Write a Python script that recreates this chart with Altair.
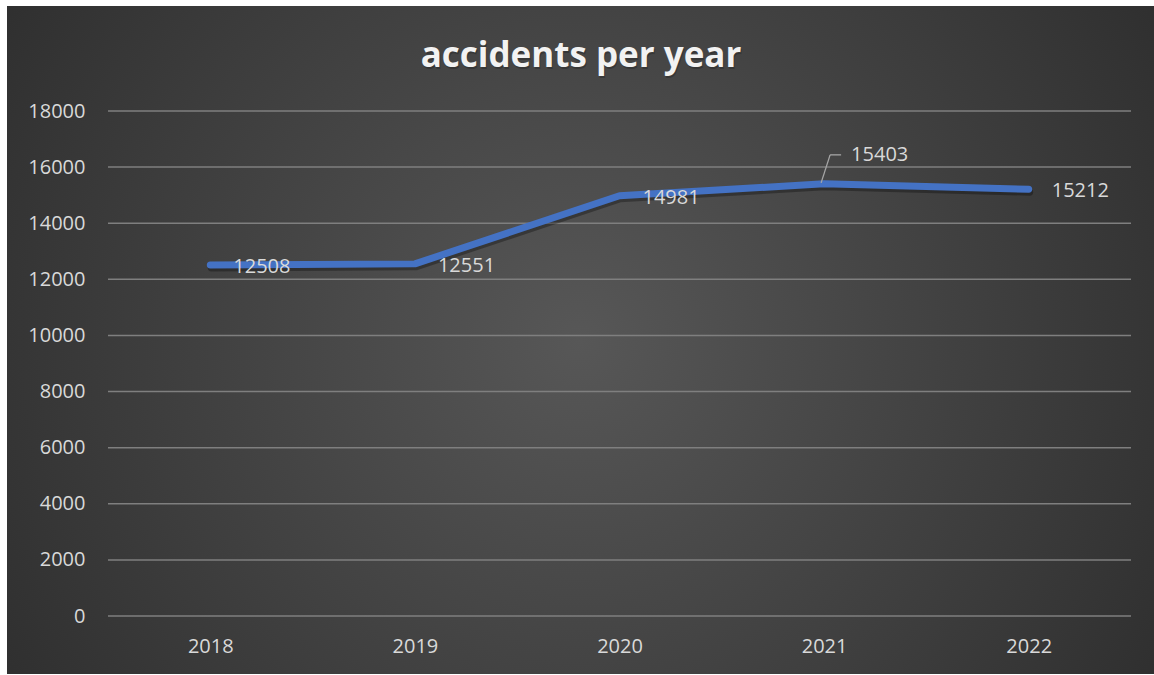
import altair as alt
import pandas as pd

years = ["2018", "2019", "2020", "2021", "2022"]
accidents = [12508, 12551, 14981, 15403, 15212]
y_ticks = [0, 2000, 4000, 6000, 8000, 10000, 12000, 14000, 16000, 18000]
title_text = "accidents per year"

df = pd.DataFrame({"year": years, "accidents": accidents})
grid_df = pd.DataFrame({"accidents": y_ticks})

W, H = 1023, 505
L, T = 108, 111
FONT = "Open Sans"
LABEL_COLOR = "#d9d9d9"

x_enc = alt.X(
    "year:O",
    sort=years,
    scale=alt.Scale(type="point", padding=0.5),
    axis=alt.Axis(
        title=None, labelAngle=0, labelFont=FONT, labelFontSize=20,
        labelColor=LABEL_COLOR, labelPadding=20, ticks=False, domain=False,
        grid=False, zindex=1,
    ),
)
y_scale = alt.Scale(domain=[0, 18000], nice=False)
y_axis = alt.Axis(
    title=None, values=y_ticks, format="d", labelFont=FONT, labelFontSize=20,
    labelColor=LABEL_COLOR, labelPadding=23, ticks=False, domain=False,
    grid=False, zindex=1,
)
y_enc = alt.Y("accidents:Q", scale=y_scale, axis=y_axis)

gradient = alt.RadialGradient(
    gradient="radial",
    x1=0.5, y1=0.5, r1=0, x2=0.5, y2=0.5, r2=0.72,
    stops=[
        alt.GradientStop(offset=0, color="#575757"),
        alt.GradientStop(offset=1, color="#262626"),
    ],
)

one = pd.DataFrame({"title": [title_text]})

bg = alt.Chart(one).mark_rect(fill=gradient).encode(
    x=alt.value(7 - L), x2=alt.value(1154 - L),
    y=alt.value(6 - T), y2=alt.value(674 - T),
)

title_shadow = alt.Chart(one).mark_text(
    font=FONT, fontSize=35, fontWeight="bold", color="#000000", opacity=0.2,
    align="center", baseline="alphabetic", dx=1, dy=1.5,
).encode(x=alt.value(581 - L), y=alt.value(67 - T), text="title:N")

title = alt.Chart(one).mark_text(
    font=FONT, fontSize=35, fontWeight="bold", color="#f2f2f2",
    align="center", baseline="alphabetic",
).encode(x=alt.value(581 - L), y=alt.value(67 - T), text="title:N")

grid = alt.Chart(grid_df).mark_rule(color="#7f7f7f", strokeWidth=1.5).encode(
    y=y_enc,
    x=alt.value(0), x2=alt.value(W),
)

base = alt.Chart(df)

shadow = base.mark_line(
    color="#000000", opacity=0.3, strokeWidth=7, strokeCap="round",
    strokeJoin="round", xOffset=1, yOffset=3,
).encode(x=x_enc, y=y_enc)

line = base.mark_line(
    color="#4472C4", strokeWidth=7, strokeCap="round", strokeJoin="round",
).encode(x=x_enc, y=y_enc)

labels = base.transform_filter("datum.year != '2021'").mark_text(
    align="left", baseline="middle", dx=23, dy=2, fontSize=20, font=FONT,
    color=LABEL_COLOR,
).encode(x=x_enc, y=y_enc, text=alt.Text("accidents:Q", format="d"))

label21 = base.transform_filter("datum.year == '2021'").mark_text(
    align="left", baseline="middle", dx=27, dy=-29, fontSize=20, font=FONT,
    color=LABEL_COLOR,
).encode(x=x_enc, y=y_enc, text=alt.Text("accidents:Q", format="d"))

leader1 = base.transform_filter("datum.year == '2021'").mark_rule(
    color="#a6a6a6", strokeWidth=1.3, xOffset=-3, yOffset=-1,
    x2Offset=6, y2Offset=-29,
).encode(x=x_enc, x2=alt.X2("year"), y=y_enc, y2=alt.Y2("accidents"))

leader2 = base.transform_filter("datum.year == '2021'").mark_rule(
    color="#a6a6a6", strokeWidth=1.3, xOffset=6, yOffset=-29,
    x2Offset=17, y2Offset=-29,
).encode(x=x_enc, x2=alt.X2("year"), y=y_enc, y2=alt.Y2("accidents"))

chart = alt.layer(
    bg, title_shadow, title, grid, shadow, line, leader1, leader2, labels, label21
).properties(
    width=W,
    height=H,
    autosize="none",
    padding={"left": L, "top": T, "right": 1154 - L - W, "bottom": 675 - T - H},
    background="white",
).configure_view(stroke=None)

chart.save("out.html", embed_options={"renderer": "svg", "actions": False})
